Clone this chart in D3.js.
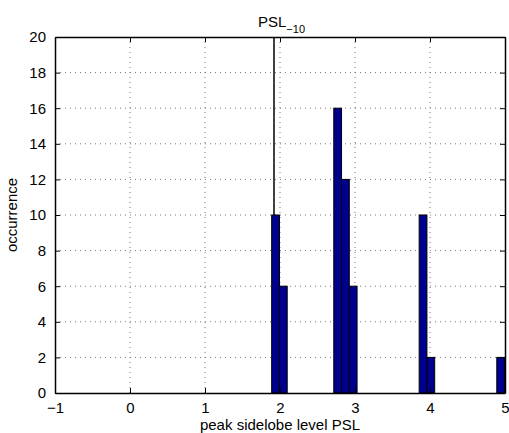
<!DOCTYPE html>
<html>
<head>
<meta charset="utf-8">
<script src="https://cdn.jsdelivr.net/npm/d3@7/dist/d3.min.js"></script>
<style>
  body { margin: 0; background: #fff; }
  text { font-family: "Liberation Sans", Arial, Helvetica, sans-serif; }
</style>
</head>
<body>
<svg width="509" height="433"></svg>
<script>
// histogram bins (left edge, count)
var binEdges = [1.889, 1.9925, 2.7170, 2.8205, 2.9240, 3.8555, 3.9590, 4.8905];
var binCounts = [10, 6, 16, 12, 6, 10, 2, 2];
var binWidth = 0.1035;
var markerX = 1.92;   // black vertical line
var xTicks = [-1, 0, 1, 2, 3, 4, 5];
var yTicks = [0, 2, 4, 6, 8, 10, 12, 14, 16, 18, 20];

var margin = {top: 37, right: 4, bottom: 40, left: 55},
    width = 509 - margin.left - margin.right,
    height = 433 - margin.top - margin.bottom;

var svg = d3.select("svg");
var g = svg.append("g").attr("transform", "translate(" + margin.left + "," + margin.top + ")");

var x = d3.scaleLinear().domain([-1, 5]).range([0, width]);
var y = d3.scaleLinear().domain([0, 20]).range([height, 0]);

// dotted grid
g.selectAll(".gx").data(xTicks.slice(1, -1)).enter().append("line")
    .attr("x1", function (d) { return x(d); }).attr("x2", function (d) { return x(d); })
    .attr("y1", 0).attr("y2", height)
    .attr("stroke", "#777").attr("stroke-width", 1).attr("stroke-dasharray", "1,4");
g.selectAll(".gy").data(yTicks.slice(1, -1)).enter().append("line")
    .attr("y1", function (d) { return y(d); }).attr("y2", function (d) { return y(d); })
    .attr("x1", 0).attr("x2", width)
    .attr("stroke", "#777").attr("stroke-width", 1).attr("stroke-dasharray", "1,4");

// marker line
g.append("line")
    .attr("x1", x(markerX)).attr("x2", x(markerX))
    .attr("y1", y(0)).attr("y2", y(20))
    .attr("stroke", "#000").attr("stroke-width", 1.5);

// bars
g.append("clipPath").attr("id", "clip").append("rect")
    .attr("width", width).attr("height", height);
g.append("g").attr("clip-path", "url(#clip)")
    .selectAll("rect").data(binEdges).enter().append("rect")
    .attr("x", function (d) { return x(d); })
    .attr("width", function (d) { return x(d + binWidth) - x(d); })
    .attr("y", function (d, i) { return y(binCounts[i]); })
    .attr("height", function (d, i) { return y(0) - y(binCounts[i]); })
    .attr("fill", "#00008f").attr("stroke", "#000").attr("stroke-width", 1);

// axes box with inward ticks
var noLabel = function () { return ""; };
var xAxisB = d3.axisBottom(x).tickValues(xTicks).tickSizeInner(-5).tickSizeOuter(0).tickPadding(9)
    .tickFormat(function (d) { return d < 0 ? "\u2212" + Math.abs(d) : d; });
var yAxisL = d3.axisLeft(y).tickValues(yTicks).tickSizeInner(-5).tickSizeOuter(0).tickPadding(9);
var xAxisT = d3.axisTop(x).tickValues(xTicks).tickSizeInner(-5).tickSizeOuter(0).tickFormat(noLabel);
var yAxisR = d3.axisRight(y).tickValues(yTicks).tickSizeInner(-5).tickSizeOuter(0).tickFormat(noLabel);

var ax = [
    g.append("g").attr("transform", "translate(0," + height + ")").call(xAxisB),
    g.append("g").call(yAxisL),
    g.append("g").call(xAxisT),
    g.append("g").attr("transform", "translate(" + width + ",0)").call(yAxisR)
];
ax.forEach(function (a) {
    a.selectAll("path").attr("stroke", "#000").attr("stroke-width", 1.5);
    a.selectAll("line").attr("stroke", "#000");
    a.selectAll("text").attr("fill", "#000").style("font-size", "15px")
        .style("font-family", "'Liberation Sans', Arial, sans-serif");
});

// labels
g.append("text")
    .attr("x", width / 2).attr("y", height + 37)
    .attr("text-anchor", "middle").style("font-size", "15px")
    .text("peak sidelobe level PSL");

g.append("text")
    .attr("transform", "translate(" + (-38) + "," + (height / 2) + ") rotate(-90)")
    .attr("text-anchor", "middle").style("font-size", "15px")
    .text("occurrence");

var title = svg.append("text")
    .attr("x", 258).attr("y", 27).style("font-size", "15px");
title.append("tspan").text("PSL");
title.append("tspan").attr("dy", 6).style("font-size", "11px").text("\u221210");
</script>
</body>
</html>
